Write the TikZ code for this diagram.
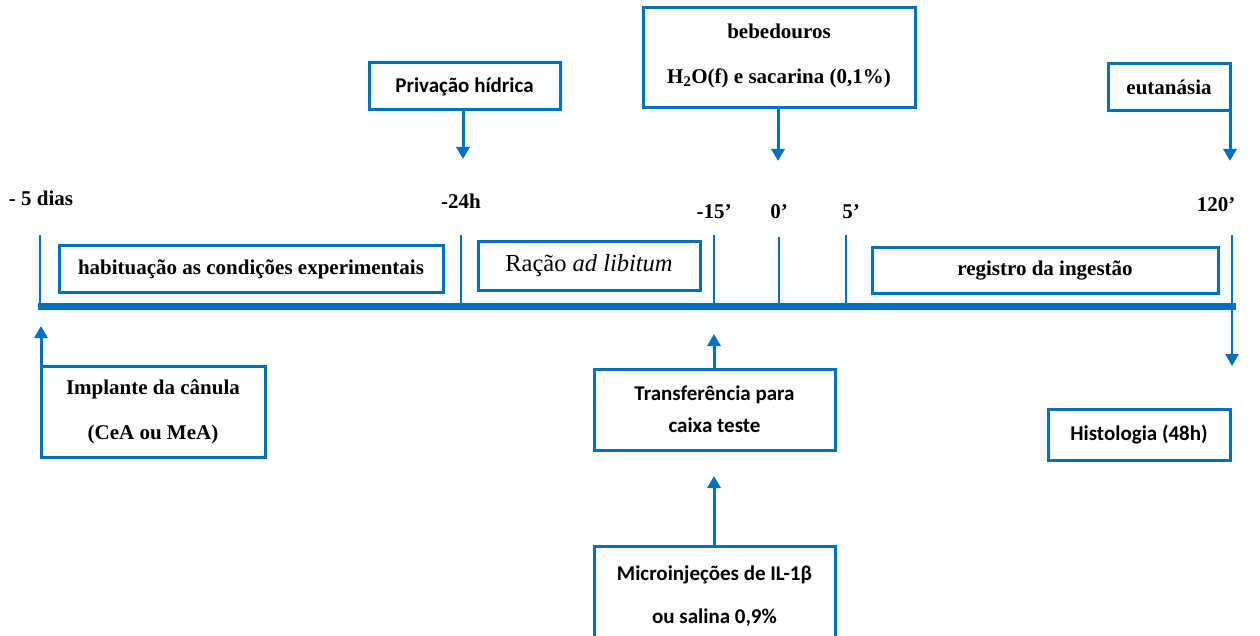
\documentclass[tikz,border=0pt]{standalone}
\usepackage{fontspec}
\setmainfont{Liberation Serif}
\newfontfamily\calib{Carlito}
\usetikzlibrary{arrows.meta}
\definecolor{tblue}{RGB}{0,112,192}
\begin{document}
\begin{tikzpicture}[x=1pt,y=-1pt,
  bx/.style={draw=tblue,line width=3pt,inner sep=0pt,outer sep=0pt,align=center},
  lbl/.style={inner sep=0pt,font=\fontsize{21}{24}\selectfont\bfseries},
  tick/.style={draw=tblue,line width=2.5pt},
  arr/.style={draw=tblue,line width=3pt,-{Triangle[width=13pt,length=12pt]}},
  sf/.style={font=\calib\fontsize{21}{24}\selectfont\bfseries},
  sr/.style={font=\fontsize{21}{24}\selectfont\bfseries}]
\useasboundingbox (0,0) rectangle (1260,636);
% timeline
\coordinate (tlL) at (38,306);
\coordinate (tlR) at (1236,306);
\draw[draw=tblue,line width=7pt] (tlL) -- (tlR);
% ticks
\coordinate (t1a) at (40,235); \coordinate (t1b) at (40,306);
\coordinate (t2a) at (461,235); \coordinate (t2b) at (461,306);
\coordinate (t3a) at (714,235); \coordinate (t3b) at (714,306);
\coordinate (t4a) at (779,237); \coordinate (t4b) at (779,306);
\coordinate (t5a) at (846,235); \coordinate (t5b) at (846,306);
\coordinate (t6a) at (1232,235); \coordinate (t6b) at (1232,366);
\draw[tick] (t1a) -- (t1b);
\draw[tick] (t2a) -- (t2b);
\draw[tick] (t3a) -- (t3b);
\draw[tick] (t4a) -- (t4b);
\draw[tick] (t5a) -- (t5b);
\draw[arr,line width=2.5pt] (t6a) -- (t6b);
% tick labels
\node[lbl] (l1) at (41,198) {- 5 dias};
\node[lbl] (l2) at (461,201) {-24h};
\node[lbl] (l3) at (714,212) {-15’};
\node[lbl] (l4) at (779,212) {0’};
\node[lbl] (l5) at (851,212) {5’};
\node[lbl] (l6) at (1216,205) {120’};
% boxes on timeline
\node[bx,sr,minimum width=384,minimum height=46] (hab) at (251,269) {habituação as condições experimentais};
\node[bx,minimum width=222,minimum height=48,font=\fontsize{24.5}{28}\selectfont] (rac) at (589,266) {Ração \textit{ad libitum}};
\node[bx,sr,minimum width=346,minimum height=45] (reg) at (1045,270.5) {registro da ingestão};
% top boxes
\node[bx,sf,minimum width=191,minimum height=47] (priv) at (464.5,86.5) {Privação hídrica};
\node[bx,minimum width=272,minimum height=100] (beb) at (779,58) {};
\node[sr,inner sep=0pt] (bebA) at (779,31) {bebedouros};
\node[sr,inner sep=0pt] (bebB) at (779,78) {H\textsubscript{2}O(f) e sacarina (0,1\%)};
\node[bx,sr,minimum width=122,minimum height=47] (eut) at (1169,87.5) {eutanásia};
\coordinate (privT) at (463,159);
\coordinate (bebT) at (778,161);
\coordinate (eutS) at (1230,111);
\coordinate (eutT) at (1230,161);
\draw[arr] (priv.south -| privT) -- (privT);
\draw[arr] (beb.south -| bebT) -- (bebT);
\draw[arr] (eutS) -- (eutT);
% bottom boxes
\node[bx,sr,minimum width=224,minimum height=91] (imp) at (153,411.5) {Implante da cânula\\[21pt](CeA ou MeA)};
\coordinate (impT) at (41,326);
\draw[arr] (imp.north west -| impT) -- (impT);
\node[bx,sf,minimum width=241,minimum height=81] (tra) at (714.5,409.5) {Transferência para\\[8pt]caixa teste};
\coordinate (traT) at (714,334);
\draw[arr] (tra.north -| traT) -- (traT);
\node[sf,inner sep=0pt,outer sep=0pt,minimum width=241,minimum height=100,align=center] (mic) at (714.5,596) {Microinjeções de IL-1β\\[19pt]ou salina 0,9\%};
\draw[draw=tblue,line width=3pt] (mic.south west) -- (mic.north west) -- (mic.north east) -- (mic.south east);
\coordinate (micT) at (714,476);
\draw[arr] (mic.north -| micT) -- (micT);
\node[bx,sf,minimum width=182,minimum height=51] (his) at (1139,434.5) {Histologia (48h)};
\end{tikzpicture}
\end{document}
